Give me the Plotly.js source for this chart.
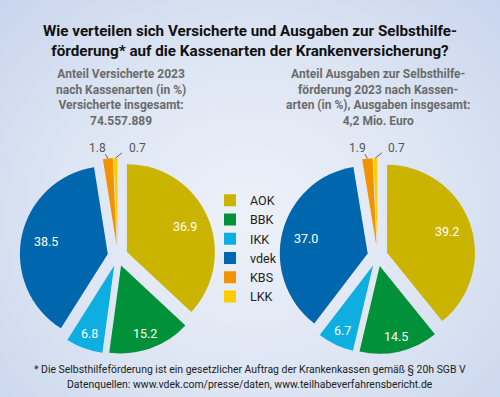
<!DOCTYPE html>
<html><head><meta charset="utf-8">
<script src="https://cdn.plot.ly/plotly-3.0.1.min.js"></script>
<style>
html,body{margin:0;padding:0;}
#chart{width:500px;height:397px;background:radial-gradient(ellipse at 50% 55%, #edf1f9 0%, #dde5f3 55%, #c8d5ed 100%);}
</style></head><body><div id="chart"></div>
<script>
const categories = ['AOK', 'BBK', 'IKK', 'vdek', 'KBS', 'LKK'];
const versicherteAnteil = [36.9, 15.2, 6.8, 38.5, 1.8, 0.7];
const ausgabenAnteil = [39.2, 14.5, 6.7, 37.0, 1.9, 0.7];
const sliceColors = ['#cbb400', '#009139', '#0eaee1', '#0066ad', '#f39200', '#ffcc00'];

const titleText = 'Wie verteilen sich Versicherte und Ausgaben zur Selbsthilfe-<br>förderung* auf die Kassenarten der Krankenversicherung?';
const leftSubtitle = 'Anteil Versicherte 2023<br>nach Kassenarten (in %)<br>Versicherte insgesamt:<br>74.557.889';
const rightSubtitle = 'Anteil Ausgaben zur Selbsthilfe-<br>förderung 2023 nach Kassen-<br>arten (in %), Ausgaben insgesamt:<br>4,2 Mio. Euro';
const footnoteLines = ['* Die Selbsthilfeförderung ist ein gesetzlicher Auftrag der Krankenkassen gemäß § 20h SGB V',
                       'Datenquellen: www.vdek.com/presse/daten, www.teilhabeverfahrensbericht.de'];

// label style per slice: 'in' = white label inside, 'out' = grey label outside with a leader line
const labelMode = ['in', 'in', 'in', 'in', 'out', 'out'];
const outLabelOffset = [null, null, null, null, [-10, -10.5], [21.5, -10]];
const outLineOffset = [null, null, null, null, [-3.5, -6.5], [8, -6.5]];

const FONT = 'Roboto, sans-serif';
const W = 500, H = 397;
const PULL = 0.115;
const leftDomain = {x: [0.0394, 0.4314], y: [0.108, 0.602]};
const rightDomain = {x: [0.559, 0.951], y: [0.108, 0.602]};

function pieTrace(values, domain) {
  return {
    type: 'pie',
    labels: categories,
    values: values,
    sort: false,
    direction: 'clockwise',
    rotation: 0,
    pull: PULL,
    marker: {colors: sliceColors, line: {width: 0}},
    textinfo: 'none',
    hoverinfo: 'skip',
    domain: domain
  };
}

// same geometry Plotly uses for a pie in its domain (margins are 0)
function pieGeom(domain) {
  const x0 = domain.x[0] * W, x1 = domain.x[1] * W;
  const y0 = (1 - domain.y[1]) * H, y1 = (1 - domain.y[0]) * H;
  return {cx: (x0 + x1) / 2, cy: (y0 + y1) / 2, r: Math.min(x1 - x0, y1 - y0) / (2 * (1 + PULL))};
}

function sliceAnnotations(values, domain) {
  const g = pieGeom(domain);
  const total = values.reduce((a, b) => a + b, 0);
  const out = [];
  let cum = 0;
  values.forEach((v, i) => {
    const mid = (cum + v / 2) / total * 2 * Math.PI;
    cum += v;
    const dx = Math.sin(mid), dy = -Math.cos(mid);
    const txt = v.toFixed(1);
    if (labelMode[i] === 'in') {
      const f = v / total > 0.2 ? 0.72 : 0.82;
      const d = (PULL + f) * g.r;
      out.push({text: txt, x: (g.cx + dx * d) / W, y: 1 - (g.cy + dy * d) / H,
        xref: 'paper', yref: 'paper', xanchor: 'center', yanchor: 'middle', showarrow: false,
        font: {family: FONT, size: 12.5, color: '#ffffff'}});
    } else {
      const d = (1 + PULL) * g.r;
      const tx = g.cx + dx * d, ty = g.cy + dy * d;
      out.push({text: ' ', x: tx / W, y: 1 - ty / H, xref: 'paper', yref: 'paper',
        showarrow: true, arrowhead: 0, arrowwidth: 0.8, arrowcolor: '#444', standoff: 0,
        ax: outLineOffset[i][0], ay: outLineOffset[i][1], font: {size: 1}});
      out.push({text: txt, x: (tx + outLabelOffset[i][0]) / W, y: 1 - (ty + outLabelOffset[i][1]) / H,
        xref: 'paper', yref: 'paper', xanchor: 'center', yanchor: 'middle', showarrow: false,
        font: {family: FONT, size: 12, color: '#555555'}});
    }
  });
  return out;
}

const data = [pieTrace(versicherteAnteil, leftDomain), pieTrace(ausgabenAnteil, rightDomain)];

const titleFont = {family: FONT, size: 15.2, color: '#111', weight: 'bold'};
const subFont = {family: FONT, size: 12, color: '#6b6b6b', weight: 'bold'};
const annotations = [
  {text: leftSubtitle, x: 0.242, y: 1 - 64.5 / H, xref: 'paper', yref: 'paper', xanchor: 'center', yanchor: 'top',
   showarrow: false, align: 'center', font: subFont},
  {text: rightSubtitle, x: 0.755, y: 1 - 64.5 / H, xref: 'paper', yref: 'paper', xanchor: 'center', yanchor: 'top',
   showarrow: false, align: 'center', font: subFont},
  {text: footnoteLines[0], x: 0.5, y: 1 - 369 / H, xref: 'paper', yref: 'paper', xanchor: 'center', yanchor: 'middle',
   showarrow: false, font: {family: FONT, size: 10.45, color: '#222'}},
  {text: footnoteLines[1], x: 0.5, y: 1 - 384 / H, xref: 'paper', yref: 'paper', xanchor: 'center', yanchor: 'middle',
   showarrow: false, font: {family: FONT, size: 10.45, color: '#222'}}
].concat(sliceAnnotations(versicherteAnteil, leftDomain), sliceAnnotations(ausgabenAnteil, rightDomain));

const layout = {
  width: W, height: H,
  margin: {l: 0, r: 0, t: 0, b: 0},
  paper_bgcolor: 'rgba(0,0,0,0)',
  plot_bgcolor: 'rgba(0,0,0,0)',
  font: {family: FONT, color: '#222'},
  title: {
    text: titleText,
    font: titleFont,
    x: 0.5, xanchor: 'center', y: 0.9096, yanchor: 'top'
  },
  showlegend: true,
  legend: {
    x: 0.42, xanchor: 'left', y: 0.5326, yanchor: 'top',
    bgcolor: 'rgba(0,0,0,0)',
    font: {family: FONT, size: 12.5, color: '#222'},
    traceorder: 'normal'
  },
  annotations: annotations
};

Plotly.newPlot('chart', data, layout, {displayModeBar: false, staticPlot: true});
</script></body></html>
